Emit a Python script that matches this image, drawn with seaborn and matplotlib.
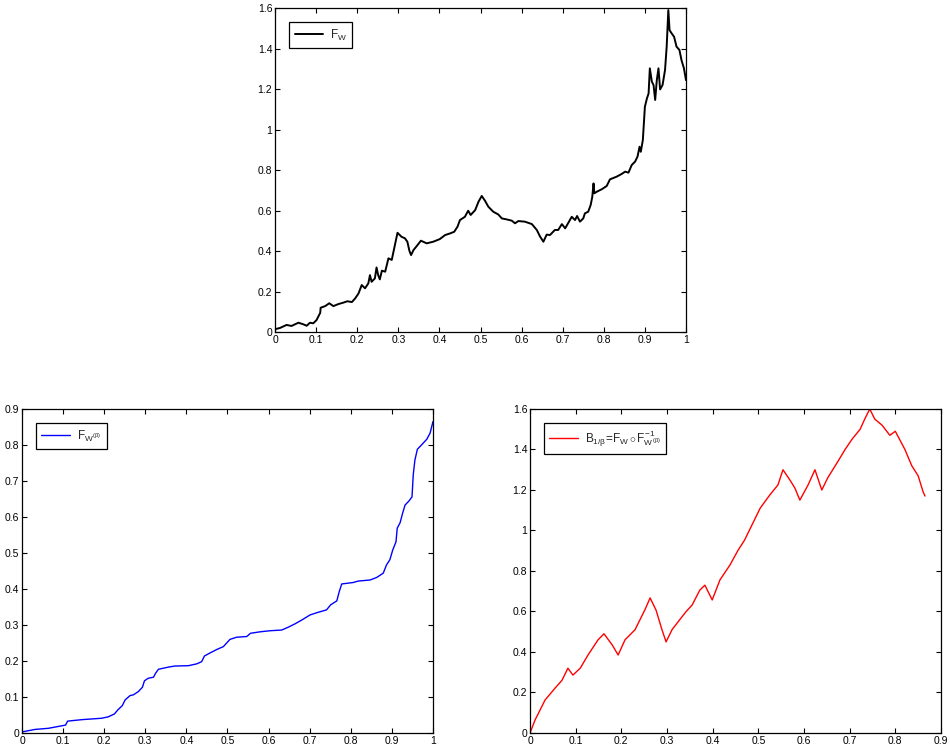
import numpy as np
import pandas as pd
import matplotlib
matplotlib.use("Agg")
import matplotlib.pyplot as plt
from matplotlib.ticker import FuncFormatter, MultipleLocator
import seaborn as sns

# Sample path of F_W on [0, 1]
fw_t = [0.0, 0.002, 0.012, 0.028, 0.04, 0.057, 0.069, 0.077, 0.085, 0.093, 0.101,
        0.11, 0.111, 0.122, 0.132, 0.142, 0.154, 0.166, 0.176, 0.187, 0.195, 0.203,
        0.211, 0.219, 0.227, 0.231, 0.235, 0.243, 0.247, 0.251, 0.255, 0.26, 0.268,
        0.276, 0.284, 0.29, 0.298, 0.308, 0.316, 0.322, 0.327, 0.331, 0.337, 0.345,
        0.355, 0.369, 0.385, 0.401, 0.414, 0.426, 0.436, 0.444, 0.45, 0.462, 0.47,
        0.476, 0.487, 0.495, 0.503, 0.511, 0.519, 0.531, 0.543, 0.552, 0.564, 0.576,
        0.584, 0.592, 0.608, 0.625, 0.637, 0.645, 0.653, 0.661, 0.669, 0.681, 0.689,
        0.698, 0.706, 0.714, 0.722, 0.73, 0.735, 0.742, 0.75, 0.754, 0.762, 0.768,
        0.772, 0.775, 0.777, 0.783, 0.795, 0.807, 0.815, 0.831, 0.843, 0.852, 0.86,
        0.868, 0.876, 0.882, 0.887, 0.89, 0.895, 0.898, 0.9, 0.905, 0.909, 0.912,
        0.917, 0.921, 0.925, 0.929, 0.933, 0.937, 0.943, 0.949, 0.953, 0.957, 0.96,
        0.965, 0.971, 0.977, 0.984, 0.989, 0.995, 1.0]
fw_v = [0.01, 0.015, 0.02, 0.035, 0.03, 0.046, 0.038, 0.031, 0.046, 0.043, 0.059,
        0.095, 0.12, 0.128, 0.142, 0.128, 0.138, 0.145, 0.152, 0.148, 0.166, 0.19,
        0.232, 0.216, 0.24, 0.281, 0.248, 0.265, 0.319, 0.281, 0.26, 0.303, 0.298,
        0.364, 0.356, 0.413, 0.49, 0.47, 0.463, 0.446, 0.401, 0.38, 0.405, 0.425,
        0.451, 0.438, 0.446, 0.459, 0.479, 0.487, 0.495, 0.52, 0.553, 0.569, 0.599,
        0.578, 0.602, 0.643, 0.672, 0.648, 0.619, 0.594, 0.581, 0.561, 0.556, 0.55,
        0.537, 0.548, 0.545, 0.533, 0.504, 0.471, 0.446, 0.481, 0.479, 0.504, 0.504,
        0.533, 0.512, 0.54, 0.569, 0.553, 0.573, 0.545, 0.561, 0.586, 0.594, 0.627,
        0.668, 0.734, 0.685, 0.693, 0.705, 0.721, 0.754, 0.767, 0.78, 0.792, 0.787,
        0.825, 0.841, 0.866, 0.915, 0.89, 0.948, 1.047, 1.113, 1.154, 1.178, 1.302,
        1.236, 1.22, 1.146, 1.244, 1.302, 1.198, 1.22, 1.294, 1.409, 1.59, 1.491,
        1.475, 1.458, 1.409, 1.393, 1.343, 1.302, 1.244]

# Increasing function F_{W^(beta)} on [0, 1]
fwb_t = [0.0, 0.032, 0.064, 0.097, 0.106, 0.111, 0.145, 0.194, 0.21, 0.225, 0.233,
         0.244, 0.251, 0.263, 0.271, 0.283, 0.293, 0.298, 0.307, 0.32, 0.325, 0.332,
         0.356, 0.372, 0.405, 0.425, 0.437, 0.444, 0.457, 0.474, 0.49, 0.506, 0.522,
         0.547, 0.556, 0.579, 0.603, 0.632, 0.648, 0.664, 0.681, 0.701, 0.717, 0.741,
         0.751, 0.766, 0.772, 0.778, 0.806, 0.818, 0.847, 0.863, 0.879, 0.887, 0.895,
         0.902, 0.91, 0.913, 0.92, 0.926, 0.932, 0.942, 0.949, 0.952, 0.956, 0.962,
         0.972, 0.985, 0.993, 1.0]
fwb_v = [0.003, 0.01, 0.013, 0.02, 0.022, 0.033, 0.037, 0.041, 0.045, 0.053, 0.064,
         0.076, 0.092, 0.104, 0.106, 0.115, 0.127, 0.145, 0.152, 0.155, 0.166, 0.177,
         0.183, 0.186, 0.187, 0.192, 0.198, 0.214, 0.222, 0.232, 0.24, 0.26, 0.266,
         0.268, 0.277, 0.281, 0.284, 0.286, 0.294, 0.303, 0.314, 0.328, 0.334, 0.342,
         0.356, 0.367, 0.393, 0.414, 0.418, 0.422, 0.425, 0.432, 0.444, 0.467, 0.481,
         0.508, 0.531, 0.569, 0.584, 0.61, 0.633, 0.645, 0.656, 0.717, 0.758, 0.788,
         0.8, 0.816, 0.833, 0.865]

# Time-changed path B_{1/beta}
b_x = [0.0, 0.011, 0.033, 0.055, 0.07, 0.083, 0.094, 0.11, 0.127, 0.149, 0.162,
       0.18, 0.193, 0.208, 0.23, 0.252, 0.263, 0.276, 0.289, 0.298, 0.311, 0.328,
       0.342, 0.355, 0.372, 0.383, 0.399, 0.416, 0.438, 0.455, 0.47, 0.486, 0.504,
       0.525, 0.543, 0.554, 0.569, 0.58, 0.591, 0.609, 0.624, 0.639, 0.652, 0.674,
       0.69, 0.705, 0.723, 0.733, 0.744, 0.755, 0.771, 0.788, 0.8, 0.821, 0.836,
       0.85, 0.861, 0.865]
b_y = [0.0, 0.064, 0.163, 0.222, 0.26, 0.32, 0.286, 0.32, 0.385, 0.46, 0.49,
       0.435, 0.385, 0.46, 0.51, 0.61, 0.667, 0.607, 0.51, 0.45, 0.51, 0.56,
       0.6, 0.632, 0.706, 0.73, 0.657, 0.756, 0.83, 0.9, 0.953, 1.027, 1.11,
       1.175, 1.225, 1.3, 1.25, 1.21, 1.15, 1.225, 1.3, 1.2, 1.26, 1.34,
       1.4, 1.45, 1.5, 1.55, 1.6, 1.55, 1.52, 1.47, 1.49, 1.4, 1.32,
       1.27, 1.19, 1.17]

sns.set_theme(style="ticks")
plt.rcParams.update({
    "font.family": ["Liberation Sans", "DejaVu Sans"],
    "font.size": 7.5,
    "mathtext.fontset": "custom",
    "mathtext.rm": "Liberation Sans",
    "mathtext.it": "Liberation Sans",
    "mathtext.bf": "Liberation Sans",
    "axes.linewidth": 0.9,
    "axes.edgecolor": "black",
    "xtick.direction": "in",
    "ytick.direction": "in",
    "xtick.major.size": 3.5,
    "ytick.major.size": 3.5,
    "xtick.major.width": 0.8,
    "ytick.major.width": 0.8,
    "xtick.labelsize": 7.5,
    "ytick.labelsize": 7.5,
    "xtick.color": "black",
    "ytick.color": "black",
})

fig = plt.figure(figsize=(9.5, 7.49), dpi=100)
W = 0.4326
H = 0.4326
ax_top = fig.add_axes([0.2895, 0.5567, W, H])
ax_bl = fig.add_axes([0.02316, 0.02136, W, H])
ax_br = fig.add_axes([0.5579, 0.02136, W, H])

fmt = FuncFormatter(lambda v, _: f"{v:.10g}" if abs(v) > 1e-9 else "0")

df_top = pd.DataFrame({"t": fw_t, "v": fw_v})
df_bl = pd.DataFrame({"t": fwb_t, "v": fwb_v})
df_br = pd.DataFrame({"x": b_x, "y": b_y})

sns.lineplot(data=df_top, x="t", y="v", ax=ax_top, color="black", lw=1.4,
             estimator=None, sort=False, label=r"$F_W$")
sns.lineplot(data=df_bl, x="t", y="v", ax=ax_bl, color="#0000ff", lw=1.0,
             estimator=None, sort=False, label=r"$F_{W^{(\beta)}}$")
sns.lineplot(data=df_br, x="x", y="y", ax=ax_br, color="#ff0000", lw=1.0,
             estimator=None, sort=False,
             label=r"$B_{1/\beta}\!=\!F_W\,{\circ}\,F^{-1}_{W^{(\beta)}}$")

setup = [
    (ax_top, (0, 1), 0.1, (0, 1.6), 0.2),
    (ax_bl, (0, 1), 0.1, (0, 0.9), 0.1),
    (ax_br, (0, 0.9), 0.1, (0, 1.6), 0.2),
]
for ax, xl, xs, yl, ys in setup:
    ax.set_xlim(*xl)
    ax.set_ylim(*yl)
    ax.xaxis.set_major_locator(MultipleLocator(xs))
    ax.yaxis.set_major_locator(MultipleLocator(ys))
    ax.xaxis.set_major_formatter(fmt)
    ax.yaxis.set_major_formatter(fmt)
    ax.tick_params(top=True, right=True, pad=2)
    ax.set_xlabel("")
    ax.set_ylabel("")
    for s in ax.spines.values():
        s.set_visible(True)
        s.set_color("black")
    leg = ax.legend(loc="upper left", fancybox=False, framealpha=1,
                    edgecolor="black", handlelength=2.4, borderaxespad=1.2,
                    fontsize=8.5, borderpad=0.45, handletextpad=0.6)
    leg.get_frame().set_linewidth(0.9)

fig.savefig("out.png", dpi=100)
